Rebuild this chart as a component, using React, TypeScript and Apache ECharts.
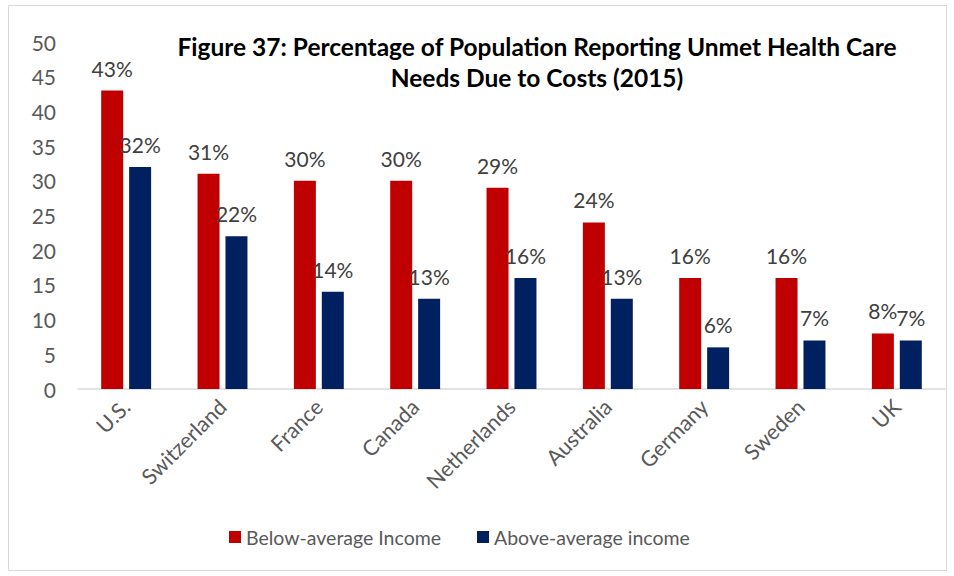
import React, { useEffect, useRef } from "react";
import * as echarts from "echarts";

const categories = ["U.S.", "Switzerland", "France", "Canada", "Netherlands", "Australia", "Germany", "Sweden", "UK"];
const belowAvg = [43, 31, 30, 30, 29, 24, 16, 16, 8];
const aboveAvg = [32, 22, 14, 13, 16, 13, 6, 7, 7];
const yTicks = [0, 5, 10, 15, 20, 25, 30, 35, 40, 45, 50];

const FONT = "Lato, 'Open Sans', sans-serif";

export default function App() {
  const ref = useRef<HTMLDivElement>(null);
  useEffect(() => {
    if (!ref.current) return;
    const chart = echarts.init(ref.current, null, { renderer: "svg" });
    const labelStyle = {
      show: true,
      position: "top" as const,
      formatter: "{c}%",
      color: "#404040",
      fontSize: 21,
      fontFamily: FONT,
      distance: 12,
    };
    chart.setOption({
      animation: false,
      backgroundColor: "#ffffff",
      title: {
        text: "Figure 37: Percentage of Population Reporting Unmet Health Care\nNeeds Due to Costs (2015)",
        left: 532,
        top: 26,
        textAlign: "center",
        textStyle: {
          fontFamily: FONT,
          fontWeight: "bold",
          fontSize: 24.5,
          color: "#000000",
          lineHeight: 31,
        },
      },
      graphic: [
        {
          type: "rect",
          shape: { x: 8.5, y: 5.5, width: 938, height: 565 },
          style: { fill: "none", stroke: "#d9d9d9", lineWidth: 1 },
          silent: true,
        },
      ],
      legend: {
        bottom: 24,
        left: 224,
        itemWidth: 12,
        itemHeight: 12,
        itemGap: 36,
        icon: "rect",
        textStyle: { fontFamily: FONT, fontSize: 19.5, color: "#595959", padding: [0, 0, 0, 0] },
        data: ["Below-average Income", "Above-average income"],
      },
      grid: { left: 78, right: 9, top: 42, bottom: 187, containLabel: false },
      xAxis: {
        type: "category",
        data: categories,
        axisLine: { lineStyle: { color: "#d9d9d9", width: 1.5 } },
        axisTick: { show: false },
        axisLabel: {
          rotate: 45,
          fontFamily: FONT,
          fontSize: 21.5,
          color: "#595959",
          margin: 14,
          interval: 0,
        },
      },
      yAxis: {
        type: "value",
        min: yTicks[0],
        max: yTicks[yTicks.length - 1],
        interval: 5,
        splitLine: { show: false },
        axisLine: { show: false },
        axisTick: { show: false },
        axisLabel: { fontFamily: FONT, fontSize: 21, color: "#595959", margin: 22 },
      },
      series: [
        {
          name: "Below-average Income",
          type: "bar",
          data: belowAvg,
          barWidth: 22,
          barGap: "27%",
          itemStyle: { color: "#c00000" },
          label: labelStyle,
        },
        {
          name: "Above-average income",
          type: "bar",
          data: aboveAvg,
          barWidth: 22,
          itemStyle: { color: "#002060" },
          label: labelStyle,
        },
      ],
    });
    return () => chart.dispose();
  }, []);
  return <div ref={ref} style={{ width: 954, height: 576, position: "absolute", left: 0, top: 0 }} />;
}
